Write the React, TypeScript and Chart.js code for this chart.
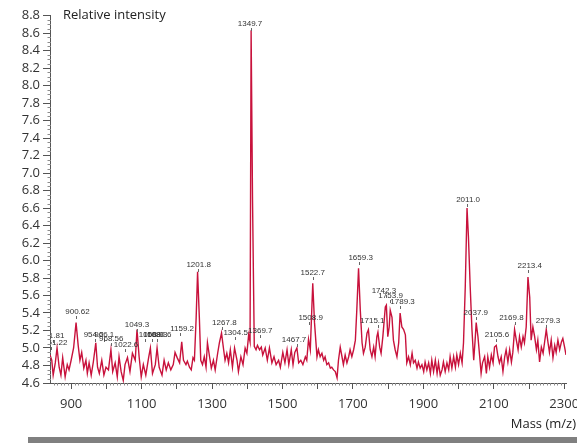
import React, { useEffect, useRef } from 'react';
import { Chart, registerables } from 'chart.js';

Chart.register(...registerables);

// ---- data ----
const masses: number[] = [
  840, 845, 849, 855, 860, 866, 871, 876, 883, 889,
  894, 900, 907, 914, 920, 925, 930, 936, 942, 946,
  951, 957, 963, 970, 975, 980, 987, 993, 999, 1006,
  1013, 1018, 1025, 1031, 1036, 1042, 1048, 1053, 1060, 1067,
  1074, 1082, 1087, 1093, 1099, 1105, 1112, 1120, 1125, 1131,
  1139, 1144, 1150, 1158, 1164, 1170, 1176, 1183, 1190, 1195,
  1201, 1208, 1214,
  1219, 1226, 1230, 1236, 1241, 1246, 1250, 1255, 1259, 1264,
  1268, 1273, 1278, 1283, 1287, 1293, 1298, 1304, 1309, 1316,
  1321, 1327, 1333, 1337, 1342, 1347, 1352, 1358, 1364, 1371,
  1375, 1382, 1388, 1394, 1399, 1404, 1408, 1411, 1415, 1420,
  1425, 1429, 1435, 1440, 1444, 1451, 1457, 1463, 1470, 1476,
  1482, 1489, 1494, 1501, 1507, 1513, 1518, 1525, 1530, 1535,
  1541, 1546, 1552, 1558, 1565, 1569, 1574, 1579, 1586, 1591,
  1598,
  1602, 1607, 1612, 1617, 1621, 1626, 1631, 1636, 1640, 1645,
  1650, 1655, 1659, 1664, 1669, 1673, 1678, 1683, 1688, 1692,
  1697, 1702, 1707, 1711, 1716, 1721, 1726, 1730, 1735, 1740,
  1744, 1749, 1754, 1759, 1763, 1768, 1771, 1776, 1780, 1785,
  1792, 1795, 1799, 1803, 1806, 1811, 1815, 1820, 1825, 1830,
  1834, 1839, 1844, 1849, 1853, 1858, 1863, 1868, 1872, 1877,
  1882, 1886, 1891, 1896, 1901, 1905, 1910, 1915, 1920, 1924,
  1929, 1934, 1939, 1943, 1948,
  1953, 1957, 1962, 1967, 1972, 1976, 1981, 1986, 1991, 1995,
  2000, 2005, 2010, 2014, 2019, 2024, 2028, 2033, 2038, 2043,
  2047, 2050, 2055, 2060, 2064, 2068, 2074, 2079, 2083, 2088,
  2093, 2098, 2102, 2107, 2112, 2116, 2121, 2126, 2131, 2135,
  2140, 2145, 2150, 2154, 2159, 2164, 2169, 2173, 2178, 2183,
  2187, 2192, 2197, 2202, 2206, 2211, 2216, 2221, 2225, 2230,
  2235, 2240, 2244, 2249, 2254, 2258, 2263, 2268, 2273, 2277,
  2282, 2287, 2292, 2296, 2301, 2305,
];

const intensity: number[] = [
  4.92, 4.86, 4.69, 4.83, 5.00, 4.78, 4.69, 4.89, 4.67, 4.81,
  4.75, 4.86, 5.00, 5.29, 5.03, 4.86, 4.95, 4.77, 4.86, 4.71,
  4.83, 4.69, 4.84, 5.06, 4.78, 4.71, 4.86, 4.69, 4.78, 4.75,
  4.98, 4.73, 4.83, 4.67, 4.90, 4.73, 4.63, 4.81, 4.89, 4.73,
  4.94, 4.86, 5.21, 4.90, 4.67, 4.81, 4.69, 4.89, 5.00, 4.71,
  4.81, 5.00, 4.78, 4.69, 4.86, 4.75, 4.83, 4.75, 4.81, 4.95,
  4.89, 4.83, 5.07,
  4.86, 4.81, 4.85, 4.78, 4.75, 4.89, 4.86, 5.35, 5.87, 5.35,
  4.86, 4.81, 4.90, 4.78, 5.06, 4.90, 4.77, 4.86, 4.75, 4.94,
  5.06, 5.17, 4.98, 4.86, 4.94, 4.83, 4.98, 4.78, 5.00, 4.86,
  4.73, 4.90, 4.81, 5.00, 4.94, 5.15, 5.07, 8.63, 6.69, 5.02,
  4.98, 5.03, 4.98, 5.01, 4.92, 5.00, 4.86, 5.00, 4.83, 4.90,
  4.81, 4.86, 4.78, 4.95, 4.83, 4.98, 4.81, 4.98, 4.81, 4.95,
  5.00, 4.83, 4.86, 4.81, 4.90, 4.86, 5.10, 4.98, 5.74, 5.29,
  4.90,
  4.98, 4.90, 4.94, 4.86, 4.90, 4.81, 4.83, 4.77, 4.78, 4.75,
  4.73, 4.66, 4.86, 5.01, 4.90, 4.81, 4.92, 4.83, 4.90, 4.98,
  4.90, 4.98, 5.09, 5.43, 5.91, 5.43, 5.06, 4.94, 5.01, 5.17,
  5.21, 4.98, 4.90, 5.01, 4.90, 5.13, 5.18, 5.01, 4.94, 5.13,
  5.47, 5.49, 5.13, 5.24, 5.43, 5.35, 5.09, 4.98, 4.90, 5.06,
  5.40, 5.24, 5.21, 5.15, 4.83, 4.90, 4.81, 4.94, 4.83, 4.86,
  4.77, 4.84, 4.77, 4.81, 4.73, 4.84, 4.75, 4.83, 4.71, 4.86,
  4.73, 4.86, 4.71, 4.83, 4.69,
  4.75, 4.84, 4.73, 4.83, 4.75, 4.90, 4.77, 4.90, 4.78, 4.92,
  4.81, 4.94, 4.83, 5.06, 5.70, 6.60, 6.27, 5.70, 5.21, 4.86,
  5.09, 5.29, 5.13, 4.90, 4.71, 4.83, 4.90, 4.71, 4.90, 4.78,
  4.92, 4.83, 5.01, 5.03, 4.90, 4.83, 4.90, 4.73, 4.90, 4.98,
  4.84, 4.98, 4.84, 4.95, 5.21, 5.09, 4.98, 5.13, 5.01, 5.13,
  5.06, 5.24, 5.81, 5.58, 5.09, 5.24, 5.13, 4.98, 5.09, 4.84,
  5.01, 4.94, 5.06, 5.21, 5.06, 4.95, 5.09, 4.89, 5.03, 4.95,
  5.09, 4.98, 5.07, 5.11, 5.01, 4.92,
];

const xTickValues: number[] = [900, 1000, 1100, 1200, 1300, 1400, 1500, 1600, 1700, 1800, 1900, 2000, 2100, 2200, 2300];
const xTickLabels: number[] = [900, 1100, 1300, 1500, 1700, 1900, 2100, 2300];
const yTickValues: number[] = [4.6, 4.8, 5.0, 5.2, 5.4, 5.6, 5.8, 6.0, 6.2, 6.4, 6.6, 6.8, 7.0, 7.2, 7.4, 7.6, 7.8, 8.0, 8.2, 8.4, 8.6, 8.8];

const peakText: string[] = [
  '841.81', '851.22', '900.62', '954.2', '966.1', '968.56', '1022.6', '1049.3', '1058.9', '1068.3',
  '1080.6', '1159.2', '1201.8', '1267.8', '1304.5', '1349.7', '1369.7', '1467.7', '1508.9', '1522.7',
  '1659.3', '1715.1', '1742.3', '1753.9', '1789.3', '2011.0', '2037.9', '2105.6', '2169.8', '2213.4',
  '2279.3',
];
const peakMass: number[] = [
  848, 843, 914, 968, 994, 1013, 1053, 1087, 1110, 1129,
  1143, 1210, 1259, 1328, 1366, 1411, 1435, 1541, 1574, 1586,
  1716, 1771, 1795, 1806, 1834, 2024, 2050, 2107, 2159, 2197,
  2249,
];
const peakLevel: number[] = [
  5.09, 5.01, 5.37, 5.10, 5.10, 5.06, 4.99, 5.22, 5.10, 5.10,
  5.10, 5.17, 5.90, 5.24, 5.13, 8.66, 5.15, 5.05, 5.30, 5.81,
  5.98, 5.26, 5.61, 5.55, 5.48, 6.65, 5.35, 5.10, 5.30, 5.89,
  5.26,
];
const peakTextMass: number[] = [
  846, 855, 918, 964, 994, 1014, 1056, 1087, 1127, 1139,
  1150, 1215, 1262, 1335, 1367, 1408, 1437, 1533, 1580, 1586,
  1722, 1755, 1788, 1807, 1841, 2027, 2049, 2109, 2150, 2202,
  2254,
];

const AXIS_FONT = { family: '"Open Sans", "DejaVu Sans", sans-serif', size: 13 };

const decorPlugin = {
  id: 'decor',
  afterDraw(chart: any) {
    const { ctx, chartArea: ca, scales } = chart;
    const xs = scales.x;
    const ys = scales.y;
    ctx.save();

    // minor ticks
    ctx.strokeStyle = '#8c8c8c';
    ctx.lineWidth = 1;
    ctx.beginPath();
    for (let v = 850; v <= 2300; v += 10) {
      if (v % 100 === 0) continue;
      const px = Math.round(xs.getPixelForValue(v)) + 0.5;
      ctx.moveTo(px, ca.bottom);
      ctx.lineTo(px, ca.bottom + 2.5);
    }
    for (let k = 0; k <= 84; k++) {
      if (k % 4 === 0) continue;
      const py = Math.round(ys.getPixelForValue(4.6 + k * 0.05)) + 0.5;
      ctx.moveTo(ca.left - 2.5, py);
      ctx.lineTo(ca.left + 1, py);
    }
    ctx.stroke();

    // peak annotations (clipped at the y axis)
    ctx.save();
    ctx.beginPath();
    ctx.rect(ca.left + 1, 0, chart.width - ca.left, chart.height);
    ctx.clip();
    ctx.font = '8px "Liberation Sans", Arial, sans-serif';
    ctx.textAlign = 'center';
    ctx.textBaseline = 'alphabetic';
    for (let i = 0; i < peakText.length; i++) {
      const tx = Math.round(xs.getPixelForValue(peakMass[i]));
      const ty = Math.round(ys.getPixelForValue(peakLevel[i]));
      ctx.fillStyle = '#666';
      ctx.fillRect(tx, ty, 1, 3);
      ctx.fillStyle = '#333';
      ctx.fillText(peakText[i], xs.getPixelForValue(peakTextMass[i]), ty - 2);
    }
    ctx.restore();

    // axis titles
    ctx.font = '13px "Open Sans", "DejaVu Sans", sans-serif';
    ctx.fillStyle = '#222';
    ctx.textBaseline = 'middle';
    ctx.textAlign = 'left';
    ctx.fillText('Relative intensity', ca.left + 13, ca.top);
    ctx.textAlign = 'right';
    ctx.fillText('Mass (m/z)', chart.width - 1, ca.bottom + 41);

    // grey bar at the bottom
    ctx.fillStyle = '#808080';
    ctx.fillRect(28, ca.bottom + 54, chart.width - 28, chart.height - (ca.bottom + 54));
    ctx.restore();
  },
};

export default function App() {
  const canvasRef = useRef<HTMLCanvasElement | null>(null);

  useEffect(() => {
    if (!canvasRef.current) return;
    const chart = new Chart(canvasRef.current, {
      type: 'line',
      data: {
        datasets: [
          {
            data: masses.map((m, i) => ({ x: m, y: intensity[i] })),
            borderColor: '#c8123c',
            borderWidth: 1.4,
            pointRadius: 0,
            tension: 0,
            fill: false,
          },
        ],
      },
      options: {
        animation: false,
        responsive: false,
        devicePixelRatio: 1,
        layout: { padding: { top: 15.5, right: 11, left: 0, bottom: 0 } },
        plugins: { legend: { display: false }, tooltip: { enabled: false } },
        scales: {
          x: {
            type: 'linear',
            min: 840,
            max: 2305,
            afterBuildTicks: (s: any) => {
              s.ticks = xTickValues.map((v) => ({ value: v }));
            },
            afterFit: (s: any) => {
              s.height = 60;
              s.paddingLeft = 0;
              s.paddingRight = 0;
            },
            ticks: {
              autoSkip: false,
              maxRotation: 0,
              minRotation: 0,
              padding: 7,
              color: '#333',
              font: AXIS_FONT,
              callback: (v: any) => (xTickLabels.includes(Number(v)) ? String(v) : ''),
            },
            grid: { drawOnChartArea: false, drawTicks: true, tickLength: 6, tickColor: '#555', tickWidth: 1 },
            border: { display: true, color: '#555', width: 1 },
          },
          y: {
            type: 'linear',
            min: 4.6,
            max: 8.8,
            afterBuildTicks: (s: any) => {
              s.ticks = yTickValues.map((v) => ({ value: v }));
            },
            afterFit: (s: any) => {
              s.width = 50;
              s.paddingTop = 0;
              s.paddingBottom = 0;
            },
            ticks: {
              autoSkip: false,
              padding: 3,
              color: '#333',
              font: AXIS_FONT,
              callback: (v: any) => Number(v).toFixed(1),
            },
            grid: { drawOnChartArea: false, drawTicks: true, tickLength: 7, tickColor: '#555', tickWidth: 1 },
            border: { display: true, color: '#555', width: 1 },
          },
        },
      },
      plugins: [decorPlugin],
    });
    return () => chart.destroy();
  }, []);

  return (
    <div style={{ position: 'fixed', left: 0, top: 0, width: 577, height: 443, background: '#fff' }}>
      <canvas ref={canvasRef} width={577} height={443} style={{ display: 'block' }} />
    </div>
  );
}
